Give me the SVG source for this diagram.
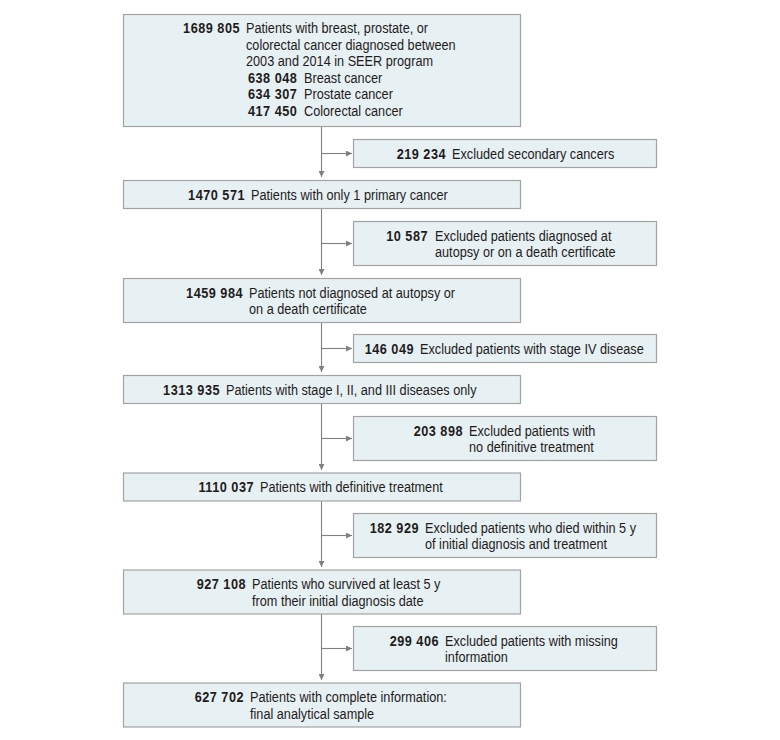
<svg xmlns="http://www.w3.org/2000/svg" width="780" height="740" viewBox="0 0 780 740">
<style>
.box{fill:#e7f0f2;stroke:#a3a3a3;stroke-width:1.2}
text{font-family:"Liberation Sans",Arial,sans-serif;font-size:15.5px;fill:#1f1c1d}
.n{font-weight:bold;text-anchor:end;letter-spacing:0.6px}
.ns{font-weight:bold;letter-spacing:0.6px}
.conn{stroke:#808080;stroke-width:1.1;fill:none}
</style>
<defs>
<marker id="ah" viewBox="0 0 10 10" refX="10" refY="5" markerWidth="6" markerHeight="6" markerUnits="userSpaceOnUse" orient="auto">
<path d="M0,0 L10,5 L0,10 Z" fill="#808080"/>
</marker>
</defs>
<rect width="780" height="740" fill="#ffffff"/>
<g id="connectors">
<path class="conn" d="M321.5,126.5 V177" marker-end="url(#ah)"/>
<path class="conn" d="M321.5,153.5 H352" marker-end="url(#ah)"/>
<path class="conn" d="M321.5,208.5 V275" marker-end="url(#ah)"/>
<path class="conn" d="M321.5,243.5 H352" marker-end="url(#ah)"/>
<path class="conn" d="M321.5,322.5 V372" marker-end="url(#ah)"/>
<path class="conn" d="M321.5,348.5 H352" marker-end="url(#ah)"/>
<path class="conn" d="M321.5,403.5 V470" marker-end="url(#ah)"/>
<path class="conn" d="M321.5,438.5 H352" marker-end="url(#ah)"/>
<path class="conn" d="M321.5,501 V567" marker-end="url(#ah)"/>
<path class="conn" d="M321.5,535.5 H352" marker-end="url(#ah)"/>
<path class="conn" d="M321.5,614 V680" marker-end="url(#ah)"/>
<path class="conn" d="M321.5,648.5 H352" marker-end="url(#ah)"/>
</g>
<g id="n1">
<rect class="box" x="123.5" y="14.5" width="397" height="112"/>
<text class="n" transform="translate(240,33) scale(0.82,1)">1689 805</text>
<text transform="translate(246,33) scale(0.82,1)">Patients with breast, prostate, or</text>
<text transform="translate(246,49.5) scale(0.82,1)">colorectal cancer diagnosed between</text>
<text transform="translate(246,66) scale(0.82,1)">2003 and 2014 in SEER program</text>
<text class="ns" transform="translate(248,82.5) scale(0.82,1)">638 048</text><text transform="translate(304,82.5) scale(0.82,1)">Breast cancer</text>
<text class="ns" transform="translate(248,99) scale(0.82,1)">634 307</text><text transform="translate(304,99) scale(0.82,1)">Prostate cancer</text>
<text class="ns" transform="translate(248,115.5) scale(0.82,1)">417 450</text><text transform="translate(304,115.5) scale(0.82,1)">Colorectal cancer</text>
</g>
<g id="e1">
<rect class="box" x="353.5" y="139.5" width="303" height="28"/>
<text class="n" transform="translate(446,158.5) scale(0.82,1)">219 234</text>
<text transform="translate(452,158.5) scale(0.82,1)">Excluded secondary cancers</text>
</g>
<g id="n2">
<rect class="box" x="123.5" y="180.5" width="397" height="28"/>
<text class="n" transform="translate(245,199.5) scale(0.82,1)">1470 571</text>
<text transform="translate(251,199.5) scale(0.82,1)">Patients with only 1 primary cancer</text>
</g>
<g id="e2">
<rect class="box" x="353.5" y="221.5" width="303" height="44"/>
<text class="n" transform="translate(428,240.5) scale(0.82,1)">10 587</text>
<text transform="translate(435,240.5) scale(0.82,1)">Excluded patients diagnosed at</text>
<text transform="translate(435,257) scale(0.82,1)">autopsy or on a death certificate</text>
</g>
<g id="n3">
<rect class="box" x="123.5" y="278.5" width="397" height="44"/>
<text class="n" transform="translate(243,297.5) scale(0.82,1)">1459 984</text>
<text transform="translate(249,297.5) scale(0.82,1)">Patients not diagnosed at autopsy or</text>
<text transform="translate(249,314) scale(0.82,1)">on a death certificate</text>
</g>
<g id="e3">
<rect class="box" x="353.5" y="334.5" width="303" height="28"/>
<text class="n" transform="translate(414,353.5) scale(0.82,1)">146 049</text>
<text transform="translate(420,353.5) scale(0.82,1)">Excluded patients with stage IV disease</text>
</g>
<g id="n4">
<rect class="box" x="123.5" y="375.5" width="397" height="28"/>
<text class="n" transform="translate(220,394.5) scale(0.82,1)">1313 935</text>
<text transform="translate(226,394.5) scale(0.82,1)">Patients with stage I, II, and III diseases only</text>
</g>
<g id="e4">
<rect class="box" x="353.5" y="416.5" width="303" height="44"/>
<text class="n" transform="translate(463,435.5) scale(0.82,1)">203 898</text>
<text transform="translate(469,435.5) scale(0.82,1)">Excluded patients with</text>
<text transform="translate(469,452) scale(0.82,1)">no definitive treatment</text>
</g>
<g id="n5">
<rect class="box" x="123.5" y="473" width="397" height="28"/>
<text class="n" transform="translate(254,492) scale(0.82,1)">1110 037</text>
<text transform="translate(260,492) scale(0.82,1)">Patients with definitive treatment</text>
</g>
<g id="e5">
<rect class="box" x="353.5" y="513.5" width="303" height="44"/>
<text class="n" transform="translate(419,532.5) scale(0.82,1)">182 929</text>
<text transform="translate(425,532.5) scale(0.82,1)">Excluded patients who died within 5 y</text>
<text transform="translate(425,549) scale(0.82,1)">of initial diagnosis and treatment</text>
</g>
<g id="n6">
<rect class="box" x="123.5" y="570" width="397" height="44"/>
<text class="n" transform="translate(246,589) scale(0.82,1)">927 108</text>
<text transform="translate(252,589) scale(0.82,1)">Patients who survived at least 5 y</text>
<text transform="translate(252,605.5) scale(0.82,1)">from their initial diagnosis date</text>
</g>
<g id="e6">
<rect class="box" x="353.5" y="626.5" width="303" height="44"/>
<text class="n" transform="translate(439,645.5) scale(0.82,1)">299 406</text>
<text transform="translate(445,645.5) scale(0.82,1)">Excluded patients with missing</text>
<text transform="translate(445,662) scale(0.82,1)">information</text>
</g>
<g id="n7">
<rect class="box" x="123.5" y="683" width="397" height="44"/>
<text class="n" transform="translate(244,702) scale(0.82,1)">627 702</text>
<text transform="translate(250,702) scale(0.82,1)">Patients with complete information:</text>
<text transform="translate(250,718.5) scale(0.82,1)">final analytical sample</text>
</g>
</svg>
